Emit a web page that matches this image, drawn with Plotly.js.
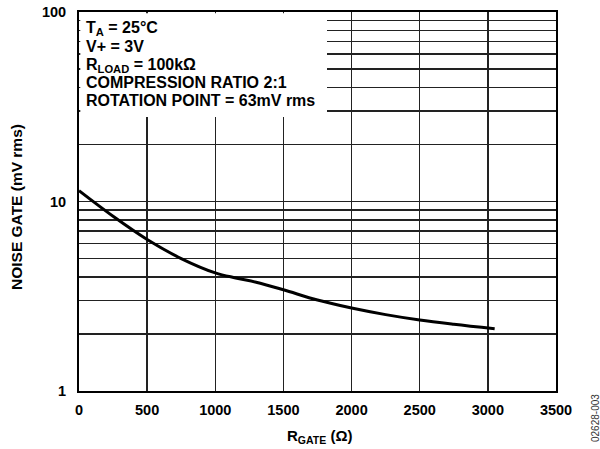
<!DOCTYPE html>
<html>
<head>
<meta charset="utf-8">
<script src="https://cdn.plot.ly/plotly-3.0.1.min.js"></script>
<style>body{margin:0;padding:0;background:#fff}#chart{width:600px;height:449px}</style>
</head>
<body>
<div id="chart"></div>
<script>
const rGate = [0, 250, 500, 750, 1000, 1150, 1300, 1500, 1750, 2000, 2250, 2500, 2750, 3050];
const noiseGate = [11.4, 8.35, 6.3, 5.0, 4.2, 3.95, 3.75, 3.42, 3.02, 2.74, 2.53, 2.37, 2.25, 2.13];
const xTicks = [0, 500, 1000, 1500, 2000, 2500, 3000, 3500];
const yGridVals = [1,2,3,4,5,6,7,8,9,10,20,30,40,50,60,70,80,90,100];
const yLabelVals = [1, 10, 100];
const noteLines = [
  'T<sub>A</sub> = 25°C',
  'V+ = 3V',
  'R<sub>LOAD</sub> = 100kΩ',
  'COMPRESSION RATIO 2:1',
  'ROTATION POINT = 63mV rms'
];
const noteY = [28.5, 47, 65.5, 83, 100];

const font = {family: 'Liberation Sans, Arial, sans-serif', color: '#000'};
const L = 79, R = 556, T = 12, B = 391;
const pw = R - L, ph = B - T;
const px = v => (v - L) / pw;
const py = v => (B - v) / ph;

const annotations = noteLines.map((t, i) => ({
  text: '<b>' + t + '</b>', xref: 'paper', yref: 'paper',
  x: px(85), y: py(noteY[i]), xanchor: 'left', yanchor: 'middle',
  borderpad: 0, showarrow: false, font: Object.assign({}, font, {size: 16})
}));
annotations.push({
  text: '02628-003', xref: 'paper', yref: 'paper', x: px(595), y: py(418),
  xanchor: 'center', yanchor: 'middle', textangle: -90, showarrow: false,
  borderpad: 0, font: Object.assign({}, font, {size: 10, color: '#333'})
});
annotations.push({
  text: '<b>NOISE GATE (mV rms)</b>', xref: 'paper', yref: 'paper', x: px(16), y: py(207),
  xanchor: 'center', yanchor: 'middle', textangle: -90, showarrow: false,
  font: Object.assign({}, font, {size: 15.5})
});
annotations.push({
  text: '<b>R<sub>GATE</sub> (Ω)</b>', xref: 'paper', yref: 'paper', x: px(319), y: py(436),
  xanchor: 'center', yanchor: 'middle', showarrow: false,
  font: Object.assign({}, font, {size: 15})
});

const layout = {
  width: 600, height: 449,
  margin: {l: L, r: 600 - R, t: T, b: 449 - B},
  paper_bgcolor: '#fff', plot_bgcolor: '#fff',
  showlegend: false,
  xaxis: {
    range: [0, 3500], tickvals: xTicks, ticktext: xTicks.map(String),
    showgrid: true, gridcolor: '#222', gridwidth: 1.4,
    zeroline: false, showline: true, linecolor: '#000', linewidth: 2, mirror: true,
    ticks: '', ticklabelstandoff: 5,
    tickfont: Object.assign({}, font, {size: 14.5, weight: 'bold'})
  },
  yaxis: {
    type: 'log', range: [0, 2],
    tickvals: yGridVals, ticktext: yGridVals.map(v => yLabelVals.includes(v) ? String(v) : ''),
    showgrid: true, gridcolor: '#222', gridwidth: 1.4,
    zeroline: false, showline: true, linecolor: '#000', linewidth: 2, mirror: true,
    ticks: '', ticklabelstandoff: 8,
    tickfont: Object.assign({}, font, {size: 14.5, weight: 'bold'})
  },
  shapes: [{
    type: 'rect', xref: 'paper', yref: 'paper', layer: 'above',
    x0: 1.3 / pw, x1: px(327), y0: py(117), y1: 1 - 1.3 / ph,
    fillcolor: '#fff', line: {width: 0}
  }],
  annotations: annotations
};

const data = [{
  x: rGate, y: noiseGate, type: 'scatter', mode: 'lines',
  line: {color: '#000', width: 3, shape: 'spline', smoothing: 1},
  hoverinfo: 'none'
}];

Plotly.newPlot('chart', data, layout, {staticPlot: true});
</script>
</body>
</html>
